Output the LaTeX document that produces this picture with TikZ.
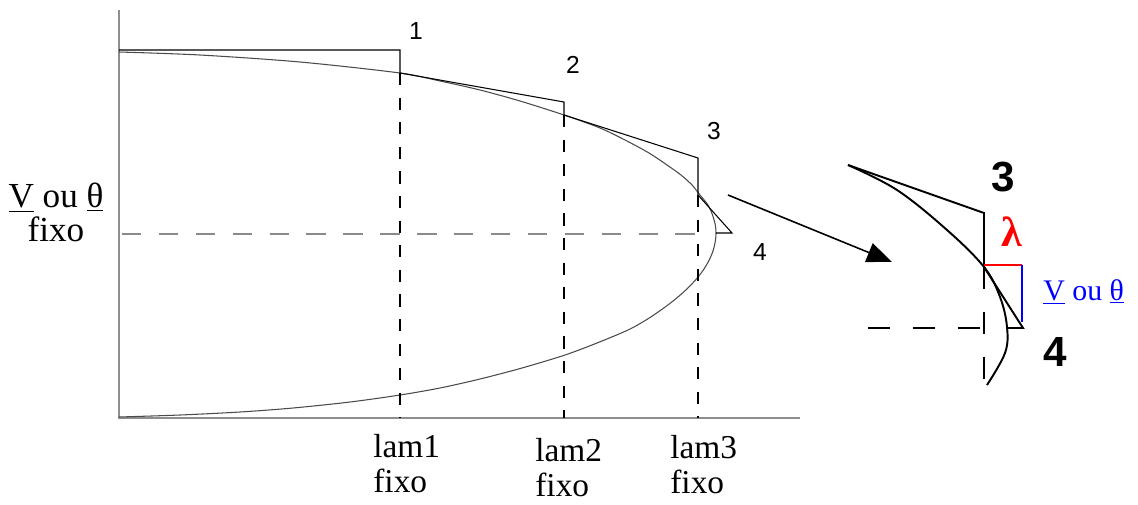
\documentclass[tikz,border=0pt]{standalone}
\usepackage{fontspec}
\setmainfont{Liberation Serif}
\newfontfamily\arialfont{Liberation Sans}
\usetikzlibrary{arrows.meta}
\definecolor{axisgray}{HTML}{8E8E8E}
\definecolor{curvegray}{HTML}{4A4A4A}
\definecolor{dashgray}{HTML}{8A8A8A}
\definecolor{lamred}{HTML}{FF0000}
\definecolor{vblue}{HTML}{0000FF}

\begin{document}
\begin{tikzpicture}[x=0.02cm,y=-0.02cm,
  lab/.style={font=\fontsize{19}{20}\selectfont,inner sep=0pt,align=left},
  num/.style={font=\arialfont\fontsize{14}{16}\selectfont,inner sep=0pt},
  bignum/.style={font=\arialfont\bfseries\fontsize{24}{26}\selectfont,inner sep=0pt},
  ax/.style={draw=axisgray,line width=1.4pt},
  cv/.style={draw=curvegray,line width=0.6pt},
  stp/.style={draw=black,line width=0.6pt},
  vdash/.style={draw=black,line width=0.6pt,dash pattern=on 7pt off 7pt},
  hdash/.style={draw=dashgray,line width=1pt,dash pattern=on 11pt off 10pt},
  zm/.style={draw=black,line width=1.1pt},
  zdash/.style={draw=black,line width=1.1pt,dash pattern=on 12.5pt off 13pt},
  a/.style={-{Triangle[length=5mm,width=4mm]},draw=black,line width=0.9pt}]
  \useasboundingbox (0,0) rectangle (1138,504);
  % axes
  \draw[ax] (119,10) -- (119,418) -- (800,418);
  % nose curve
  \draw[cv] plot[smooth,tension=0.5] coordinates {(119,52) (200,55) (300,62) (400,73) (440,81) (480,90) (520,101) (564,115)
    (600,128) (625,140) (649,153) (667,165) (681,175) (692,185) (700,195) (708,205) (712.5,215) (715.3,225) (716,233)
    (715.5,240) (713.3,250) (709.2,260) (703.3,270) (695.5,280) (685.8,290) (674.3,300) (661,310) (646,320) (628,330)
    (597,343) (565,355) (522,368) (480,379) (440,388) (400,395) (350,402) (293,408) (240,412) (180,415) (119,417)};
  % predictor / corrector points
  \coordinate (p0) at (119,50);
  \coordinate (s1) at (400,50);  \coordinate (c1) at (400,73);
  \coordinate (s2) at (564,102); \coordinate (c2) at (564,115);
  \coordinate (s3) at (698,158); \coordinate (c3) at (698,195);
  \coordinate (s4) at (732,233); \coordinate (c4) at (716,233);
  \coordinate (l1) at (400,418); \coordinate (l2) at (564,418); \coordinate (l3) at (698,418);
  \coordinate (vfix) at (122,234);
  \draw[stp] (p0) -- (s1) -- (c1) -- (s2) -- (c2) -- (s3) -- (c3) -- (s4) -- (c4);
  \draw[vdash] (c1) -- (l1);
  \draw[vdash] (c2) -- (l2);
  \draw[vdash] (c3) -- (l3);
  \draw[hdash] (vfix) -- (c3 |- vfix);
  \node[num] (n1) at (416,31) {1};
  \node[num] (n2) at (573,65) {2};
  \node[num] (n3) at (714,131) {3};
  \node[num] (n4) at (760,252) {4};
  % labels
  \node[lab,align=center,anchor=north,font=\fontsize{20}{19}\selectfont] (vth) at (56,183) {\underline{V} ou \underline{θ}\\fixo};
  \node[lab,anchor=north west] (lam1) at (373,434) {lam1\\fixo};
  \node[lab,anchor=north west] (lam2) at (535,438) {lam2\\fixo};
  \node[lab,anchor=north west] (lam3) at (670,435) {lam3\\fixo};
  % zoom arrow
  \coordinate (zfrom) at (728,195);
  \coordinate (zto) at (892,262);
  \draw[a] (zfrom) -- (zto);
  % zoomed step
  \coordinate (i0) at (848,165);
  \coordinate (i3) at (984,213); \coordinate (ic3) at (984,267);
  \coordinate (i4) at (1023,328); \coordinate (ic4) at (1007,328);
  \coordinate (ir) at (1022,265);
  \coordinate (ib) at (1022,322);
  \coordinate (ih) at (868,328);
  \coordinate (iv) at (984,385);
  \draw[zm] (i0) -- (i3) -- (ic3) -- (i4) -- (ic4);
  \draw[zm] plot[smooth,tension=0.6] coordinates {(848,165) (897,190) (947,230) (984,267) (1000,297) (1007,327) (1005,353) (987,385)};
  \draw[zdash] (ih) -- (ic3 |- ih);
  \draw[zdash] (ic3) -- (iv);
  \draw[draw=lamred,line width=1.1pt] (ic3 |- ir) -- (ir);
  \draw[draw=vblue,line width=1.1pt] (ir) -- (ib);
  \node[bignum] (z3) at (1003,177) {3};
  \node[bignum] (z4) at (1055,352) {4};
  \node[font=\bfseries\fontsize{24}{26}\selectfont,text=lamred,inner sep=0pt] (lam) at (1012,232) {λ};
  \node[font=\fontsize{17}{19}\selectfont,text=vblue,inner sep=0pt,anchor=base west] (vth2) at (1043,300) {\underline{V} ou \underline{θ}};
\end{tikzpicture}
\end{document}
